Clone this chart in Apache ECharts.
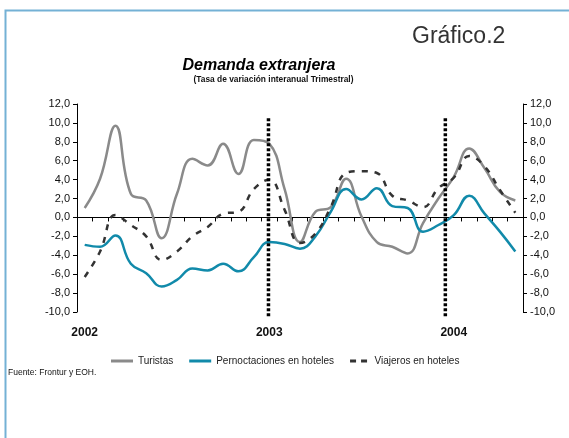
<!DOCTYPE html>
<html>
<head>
<meta charset="utf-8">
<script src="https://cdn.jsdelivr.net/npm/echarts@6/dist/echarts.min.js"></script>
<style>
  html, body { margin: 0; padding: 0; background: #fff; }
  #chart { width: 569px; height: 438px; }
</style>
</head>
<body>
<div id="chart"></div>
<script>
// meses ene-2002 .. may-2004
const months = ['E02','F02','M02','A02','M02','J02','J02','A02','S02','O02','N02','D02',
  'E03','F03','M03','A03','M03','J03','J03','A03','S03','O03','N03','D03',
  'E04','F04','M04','A04','M04']
const yearLabels = { 0: '2002', 12: '2003', 24: '2004' }

const turistas = [1.0, 4.1, 9.7, 2.5, 1.8, -2.2, 2.5, 6.2, 5.5, 7.8, 4.6, 8.2, 7.8, 3.0,
  -2.6, 0.6, 1.1, 4.1, 0.1, -2.6, -3.1, -3.8, -0.6, 2.0, 4.3, 7.3, 5.2, 2.7, 1.8]
const pernoctaciones = [-2.9, -3.1, -1.9, -4.9, -5.9, -7.3, -6.6, -5.4, -5.6, -4.9, -5.7, -4.2,
  -2.6, -2.8, -3.3, -2.0, 0.6, 3.0, 1.9, 3.1, 1.2, 1.0, -1.5, -0.8, 0.25, 2.3, 0.4, -1.5, -3.6]
const viajeros = [-6.3, -3.6, 0.25, -0.8, -2.0, -4.5, -3.6, -2.0, -1.0, 0.4, 0.6, 3.0, 4.0, 0.8,
  -2.7, -1.7, 1.1, 4.7, 4.9, 4.7, 2.3, 1.8, 1.1, 3.1, 4.2, 6.5, 5.4, 2.9, 0.5]

// separadores de año (posición en meses) y su extensión vertical
const yearMarks = [12.45, 23.95]
const markTop = 10.5
const markBottom = -10.6

const fmt = v => v.toFixed(1).replace('.', ',')
const FONT = '"Liberation Sans", Arial, sans-serif'

const chart = echarts.init(document.getElementById('chart'), null, { renderer: 'canvas' })

const yAxisBase = {
  type: 'value', min: -10, max: 12, interval: 2,
  splitLine: { show: false },
  axisLine: { show: true, lineStyle: { color: '#000', width: 1 } },
  axisTick: { show: true, length: 4, lineStyle: { color: '#000' } },
  axisLabel: { formatter: fmt, fontSize: 11, color: '#111', fontFamily: FONT, margin: 7 }
}

const txt = (text, x, y, size, extra) => ({
  type: 'text', x, y, silent: true,
  style: Object.assign({ text, fontSize: size, fontFamily: FONT, fill: '#111', textVerticalAlign: 'middle' }, extra)
})

chart.setOption({
  animation: false,
  backgroundColor: '#fff',
  textStyle: { fontFamily: FONT },
  graphic: [
    { type: 'rect', shape: { x: 5.5, y: 10.5, width: 700, height: 600 },
      style: { fill: 'none', stroke: '#74b1d5', lineWidth: 2 }, silent: true },
    txt('Gráfico.2', 412, 37, 23, { fill: '#333' }),
    txt('Demanda extranjera', 259, 66, 16, { fontWeight: 'bold', fontStyle: 'italic', fill: '#000', textAlign: 'center' }),
    txt('(Tasa de variación interanual Trimestral)', 273.5, 80, 8.4, { fontWeight: 'bold', textAlign: 'center' }),
    txt('Fuente: Frontur y EOH.', 8, 373, 8.5, {})
  ],
  legend: {
    top: 351, left: 106, itemGap: 16, itemWidth: 22, itemHeight: 3,
    textStyle: { fontSize: 10, color: '#222', fontFamily: FONT },
    data: [
      { name: 'Turistas', icon: 'rect' },
      { name: 'Pernoctaciones en hoteles', icon: 'rect' },
      { name: 'Viajeros en hoteles', icon: 'path://M0,0H6V3H0Z M11,0H17V3H11Z' }
    ]
  },
  grid: { left: 77, right: 46, top: 104, bottom: 126, containLabel: false },
  xAxis: [
    { type: 'category', data: months, boundaryGap: true, position: 'bottom',
      axisLine: { onZero: true, lineStyle: { color: '#000', width: 1 } },
      axisTick: { show: true, interval: 0, length: 4, lineStyle: { color: '#000' } },
      axisLabel: { show: false }, splitLine: { show: false } },
    { type: 'category', data: months, boundaryGap: true, position: 'bottom',
      axisLine: { show: false, onZero: false }, axisTick: { show: false },
      axisLabel: { interval: 0, margin: 15, fontSize: 12, fontWeight: 'bold', color: '#111',
        fontFamily: FONT, formatter: (v, i) => yearLabels[i] || '' } },
    { type: 'value', min: 0, max: months.length, position: 'top', show: false }
  ],
  yAxis: [
    Object.assign({}, yAxisBase, { position: 'left' }),
    Object.assign({}, yAxisBase, { position: 'right' })
  ],
  series: [
    { name: 'Turistas', type: 'line', data: turistas, smooth: 0.45, symbol: 'none',
      lineStyle: { color: '#8a8a8a', width: 2.5 }, itemStyle: { color: '#8a8a8a' } },
    { name: 'Pernoctaciones en hoteles', type: 'line', data: pernoctaciones, smooth: 0.45, symbol: 'none',
      lineStyle: { color: '#118aaa', width: 2.5 }, itemStyle: { color: '#118aaa' } },
    { name: 'Viajeros en hoteles', type: 'line', data: viajeros, smooth: 0.45, symbol: 'none',
      lineStyle: { color: '#333', width: 2.5, type: [6, 7] }, itemStyle: { color: '#333' } },
    { type: 'custom', xAxisIndex: 2, yAxisIndex: 0, clip: false, silent: true, z: 5,
      data: yearMarks.map(m => [m, markTop, markBottom]),
      renderItem: (params, api) => {
        const a = api.coord([api.value(0), api.value(1)])
        const b = api.coord([api.value(0), api.value(2)])
        return { type: 'line', shape: { x1: a[0], y1: a[1], x2: b[0], y2: b[1] },
          style: { stroke: '#000', lineWidth: 3.5, lineDash: [3, 2], fill: null } }
      } }
  ]
})
</script>
</body>
</html>
